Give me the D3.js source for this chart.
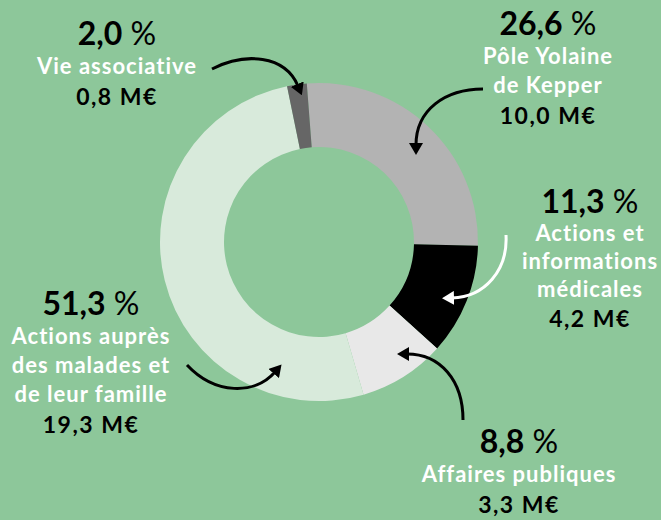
<!DOCTYPE html>
<html>
<head>
<meta charset="utf-8">
<script src="https://cdn.jsdelivr.net/npm/d3@7"></script>
<style>
  body { margin: 0; background: #8dc79a; }
  svg { display: block; }
  text { font-family: Lato, "Open Sans", sans-serif; font-weight: 700; }
</style>
</head>
<body>
<div id="chart"></div>
<script>
// budget shares (in %) and amounts (M€), clockwise from the top
const categories = ["Pôle Yolaine de Kepper", "Actions et informations médicales", "Affaires publiques", "Actions auprès des malades et de leur famille", "Vie associative"];
const labelLines = [["Pôle Yolaine", "de Kepper"], ["Actions et", "informations", "médicales"], ["Affaires publiques"], ["Actions auprès", "des malades et", "de leur famille"], ["Vie associative"]];
const shares = [26.6, 11.3, 8.8, 51.3, 2.0];
const amounts = [10.0, 4.2, 3.3, 19.3, 0.8];
const colors = ["#b3b3b3", "#000000", "#e8e8e8", "#d8eadb", "#666666"];

const width = 661, height = 520;
const cx = 319, cy = 242, rOuter = 159, rInner = 95;

const svg = d3.select("#chart")
	.append("svg")
	.attr("width", width)
	.attr("height", height);

svg.append("rect").attr("width", width).attr("height", height).attr("fill", "#8dc79a");

const start = -4.4 * Math.PI / 180;
const pie = d3.pie().sort(null).value(d => d)
	.startAngle(start).endAngle(start + 2 * Math.PI);
const arc = d3.arc().innerRadius(rInner).outerRadius(rOuter);

svg.append("g")
	.attr("transform", `translate(${cx}, ${cy})`)
	.selectAll("path")
	.data(pie(shares))
	.join("path")
	.attr("d", arc)
	.attr("fill", (d, i) => colors[i]);

// annotation layout: text block centre x, baseline of first line, line gaps
const blocks = [
	{x: 548, y: 35, gap: 29},
	{x: 590, y: 213, gap: 28},
	{x: 519, y: 453, gap: 29},
	{x: 91, y: 315, gap: 29},
	{x: 117, y: 45, gap: 29}
];

const fmt = v => d3.format(".1f")(v).replace(".", ",");

blocks.forEach((b, i) => {
	const g = svg.append("g");
	const pct = g.append("text")
		.attr("x", b.x).attr("y", b.y)
		.attr("text-anchor", "middle")
		.attr("font-size", 32)
		.attr("fill", "#000");
	pct.append("tspan").text(fmt(shares[i]));
	pct.append("tspan").attr("font-weight", 400).text(" %");

	let y = b.y;
	labelLines[i].forEach(line => {
		y += b.gap;
		g.append("text")
			.attr("x", b.x).attr("y", y)
			.attr("text-anchor", "middle")
			.attr("font-size", 22)
			.attr("letter-spacing", 1)
			.attr("fill", "#fff")
			.text(line);
	});
	y += b.gap + 2;
	g.append("text")
		.attr("x", b.x).attr("y", y)
		.attr("text-anchor", "middle")
		.attr("font-size", 23)
		.attr("letter-spacing", 1.5)
		.attr("fill", "#000")
		.text(fmt(amounts[i]) + " M€");
});

// curved arrows
const defs = svg.append("defs");
["black", "white"].forEach(c => {
	defs.append("marker")
		.attr("id", "head-" + c)
		.attr("markerUnits", "userSpaceOnUse")
		.attr("viewBox", "0 0 12 14")
		.attr("refX", 2).attr("refY", 7)
		.attr("markerWidth", 12).attr("markerHeight", 14)
		.attr("orient", "auto")
		.append("path")
		.attr("d", "M0,0 L12,7 L0,14 Z")
		.attr("fill", c);
});

const arrows = [
	{d: "M483,89 C445,89 416,110 416,145", c: "black"},
	{d: "M506,235 C508,270 485,297 452,298", c: "white"},
	{d: "M463,420 C463,380 440,354 407,354", c: "black"},
	{d: "M187,365 C215,395 255,395 275,372", c: "black"},
	{d: "M212,69 C245,52 285,55 298,86", c: "black"}
];

svg.append("g")
	.selectAll("path")
	.data(arrows)
	.join("path")
	.attr("d", d => d.d)
	.attr("fill", "none")
	.attr("stroke", d => d.c)
	.attr("stroke-width", 3)
	.attr("marker-end", d => `url(#head-${d.c})`);
</script>
</body>
</html>
